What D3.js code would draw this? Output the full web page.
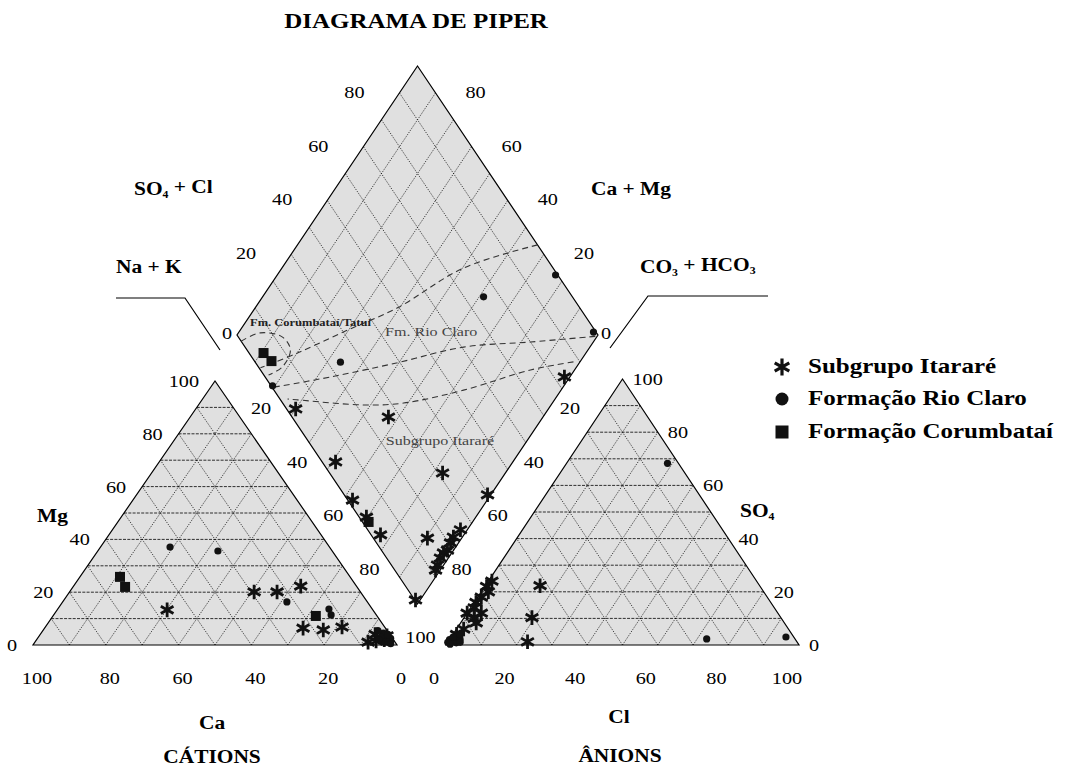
<!DOCTYPE html>
<html lang="pt">
<head>
<meta charset="UTF-8">
<title>Diagrama de Piper</title>
<style>
  body { margin: 0; background: #fff; }
  svg { display: block; font-family: "Liberation Serif", "Times New Roman", serif; }
  .area { fill: #e0e0e0; stroke: none; }
  .edge { fill: none; stroke: #000; stroke-width: 1.2; }
  .grid-h { stroke: #000; stroke-width: 0.8; stroke-dasharray: 3,1.3; }
  .grid-d { stroke: #000; stroke-width: 0.7; stroke-dasharray: 1.3,1.3; }
  .zone { stroke: #333; stroke-width: 1.1; stroke-dasharray: 6,4; fill: none; }
  .lead { stroke: #000; stroke-width: 1.2; fill: none; }
</style>
</head>
<body>
<script src="https://cdn.jsdelivr.net/npm/d3@7"></script>
<script>

var width = 1065,
    height = 767,
    sx = 1.19; // the figure is stretched horizontally, text too

var triTicks = [0, 20, 40, 60, 80, 100];
var diaTicks = [0, 20, 40, 60, 80];
var lowTicks = [20, 40, 60, 80];
var gridSteps = d3.range(10, 100, 10);

// cation triangle, [Ca %, Mg %]
var catItarare = [[56.5, 13.3], [29.2, 20.1], [22.9, 20.1], [15.3, 22.3], [22.6, 6.4], [17.4, 5.7],
                  [11.7, 6.8], [7.4, 1.1], [2.5, 2.0], [4.0, 4.0], [1.0, 3.5], [5.0, 1.5]];
var catRioClaro = [[43.8, 37.1], [31.4, 35.6], [22.1, 16.3], [11.9, 13.6], [12.4, 11.4], [2.0, 3.0],
                   [1.0, 1.5], [3.0, 1.0], [1.5, 4.5], [0.5, 2.5], [2.5, 5.5], [1.0, 2.0],
                   [2.0, 1.0], [3.0, 3.0], [0.5, 4.0], [1.5, 0.5], [4.0, 2.0]];
var catCorumbatai = [[63.2, 25.8], [63.7, 22.0], [16.8, 11.0]];

// anion triangle, [Cl %, SO4 %]
var anItarare = [[15.5, 22.3], [19.2, 10.3], [22.5, 1.2], [1, 24], [0.5, 22], [2, 20], [1, 18],
                 [0.5, 16], [1, 14], [0, 12], [4, 12], [3, 10], [4.4, 8.3], [2, 6], [1, 4]];
var anRioClaro = [[28.6, 68.3], [72.7, 2.3], [94.8, 3.0], [0.5, 1], [1.5, 2], [2.5, 0.8],
                  [1, 3], [3, 2], [0, 2], [0, 1], [0.5, 3], [1, 0.3], [2, 4], [3.5, 1]];

// diamond, [SO4+Cl %, Ca+Mg %]
var diaItarare = [[82.9, 1.5], [2.5, 70.0], [26.7, 42.8], [3.7, 49.1], [31.3, 17.4], [39.7, 0.9],
                  [1.3, 37.3], [2.6, 23.1], [15.0, 9.5], [2.0, 30.3], [0.2, 1.3],
                  [25.7, 1.9], [22.4, 2.5], [20.5, 2.2], [18.3, 1.7], [16.7, 2.3], [14.9, 2.2],
                  [12.8, 1.7], [11.3, 1.3]];
var diaRioClaro = [[99.4, 22.9], [75.4, 38.8], [99.3, 1.8], [23.6, 66.3], [0.4, 80.7]];
var diaCorumbatai = [[4.0, 89.3], [4.7, 85.6], [1.7, 28.8]];

// dashed field boundaries in the diamond, [SO4+Cl %, Ca+Mg %]
var zoneUpper = [[100, 33.5], [75.2, 49.7], [49.5, 60.6], [31.5, 70.3], [13.4, 79.9], [0.4, 87.4]];
var zoneMiddle = [[99, 0.5], [80, 17.4], [60.5, 35.0], [39.3, 50.4], [18.1, 66.3], [0, 80.5]];
var zoneLower = [[88.2, 1.8], [74.8, 12.2], [52.5, 27.0], [33.5, 41.2], [22.0, 52.0], [4.7, 71.2], [2.1, 74.1]];
var zoneCorumbatai = [[0, 97.7], [6.9, 93.9], [12.2, 87.0], [12.0, 82.4], [6.7, 81.5], [1.3, 83.8]];

var series = [
    { name: "Subgrupo Itararé", type: "asterisk", cat: catItarare, an: anItarare, dia: diaItarare },
    { name: "Formação Rio Claro", type: "circle", cat: catRioClaro, an: anRioClaro, dia: diaRioClaro },
    { name: "Formação Corumbataí", type: "square", cat: catCorumbatai, an: [], dia: diaCorumbatai }
];

// scales
var catX = d3.scaleLinear().domain([0, 100]).range([33, 397]),
    catY = d3.scaleLinear().domain([0, 100]).range([645, 381]);
var anX = d3.scaleLinear().domain([0, 100]).range([446, 799]),
    anY = d3.scaleLinear().domain([0, 100]).range([645, 379]);
var diaX = d3.scaleLinear().domain([-100, 100]).range([237, 598]),
    diaY = d3.scaleLinear().domain([0, 200]).range([604, 66]);

function catPos(ca, mg) { return [catX(100 - ca - mg / 2), catY(mg)]; }
function anPos(cl, so4) { return [anX(cl + so4 / 2), anY(so4)]; }
function diaPos(s, c) { return [diaX(s - c), diaY(s + c)]; }

var svg = d3.select("body").append("svg")
    .attr("width", width)
    .attr("height", height);

svg.append("rect").attr("width", width).attr("height", height).attr("fill", "#fff");

function txt(x, y, str, o) {
    o = o || {};
    var t = svg.append("text")
        .attr("transform", "translate(" + x + "," + y + ") scale(" + sx + ",1)")
        .attr("text-anchor", o.anchor || "middle")
        .attr("font-size", o.size || 17)
        .attr("font-weight", o.bold ? "bold" : null)
        .attr("fill", o.color || "#000");
    if (o.dy) t.attr("dy", o.dy);
    if (typeof str === "string") {
        t.text(str);
    } else {
        str.forEach(function(p) {
            var s = t.append("tspan").text(p[0]);
            if (p[1] === "sub") s.attr("font-size", "0.55em").attr("dy", "0.3em");
            if (p[1] === "back") s.attr("dy", "-0.3em");
        });
    }
    return t;
}

function drawShape(corners, lines) {
    var g = svg.append("g");
    g.append("polygon").attr("class", "area")
        .attr("points", corners.map(function(p) { return p.join(","); }).join(" "));
    g.selectAll("line").data(lines).enter().append("line")
        .attr("class", function(d) { return d.cls; })
        .attr("x1", function(d) { return d.a[0]; })
        .attr("y1", function(d) { return d.a[1]; })
        .attr("x2", function(d) { return d.b[0]; })
        .attr("y2", function(d) { return d.b[1]; });
    g.append("polygon").attr("class", "edge")
        .attr("points", corners.map(function(p) { return p.join(","); }).join(" "));
}

// cation triangle
var catLines = [];
gridSteps.forEach(function(k) {
    catLines.push({ cls: "grid-h", a: catPos(100 - k, k), b: catPos(0, k) });
    catLines.push({ cls: "grid-d", a: catPos(k, 0), b: catPos(k, 100 - k) });
    catLines.push({ cls: "grid-d", a: catPos(100 - k, 0), b: catPos(0, 100 - k) });
});
drawShape([catPos(100, 0), catPos(0, 0), catPos(0, 100)], catLines);

// anion triangle
var anLines = [];
gridSteps.forEach(function(k) {
    anLines.push({ cls: "grid-h", a: anPos(0, k), b: anPos(100 - k, k) });
    anLines.push({ cls: "grid-d", a: anPos(k, 0), b: anPos(k, 100 - k) });
    anLines.push({ cls: "grid-d", a: anPos(100 - k, 0), b: anPos(0, 100 - k) });
});
drawShape([anPos(0, 0), anPos(100, 0), anPos(0, 100)], anLines);

// diamond
var diaLines = [];
gridSteps.forEach(function(k) {
    diaLines.push({ cls: "grid-d", a: diaPos(k, 0), b: diaPos(k, 100) });
    diaLines.push({ cls: "grid-d", a: diaPos(0, k), b: diaPos(100, k) });
});
drawShape([diaPos(0, 0), diaPos(100, 0), diaPos(100, 100), diaPos(0, 100)], diaLines);

// field boundaries
var zoneLine = d3.line()
    .x(function(d) { return diaPos(d[0], d[1])[0]; })
    .y(function(d) { return diaPos(d[0], d[1])[1]; })
    .curve(d3.curveCatmullRom);
svg.selectAll("path.zone")
    .data([zoneUpper, zoneMiddle, zoneLower, zoneCorumbatai])
    .enter().append("path")
    .attr("class", "zone")
    .attr("d", zoneLine);

txt(250, 326, "Fm. Corumbataí/Tatuí", { anchor: "start", size: 10.5, bold: true, color: "#222" });
txt(385, 336, "Fm. Rio Claro", { anchor: "start", size: 13.5, color: "#444" });
txt(440, 445, "Subgrupo Itararé", { size: 13.5, color: "#444" });

// markers
var asteriskPath = d3.symbol().type(d3.symbolAsterisk).size(150)();
var asteriskBig = d3.symbol().type(d3.symbolAsterisk).size(200)();

function marker(g, type, big) {
    if (type === "asterisk") {
        g.append("path").attr("d", big ? asteriskBig : asteriskPath)
            .attr("fill", "none").attr("stroke", "#111").attr("stroke-width", big ? 3.2 : 2.8);
    } else if (type === "circle") {
        g.append("circle").attr("r", big ? 6.5 : 3.6).attr("fill", "#111");
    } else {
        var s = big ? 13 : 10;
        g.append("rect").attr("x", -s / 2).attr("y", -s / 2).attr("width", s).attr("height", s)
            .attr("fill", "#111");
    }
}

function drawPoints(data, pos, type) {
    svg.append("g").selectAll("g").data(data).enter().append("g")
        .attr("transform", function(d) { var p = pos(d[0], d[1]); return "translate(" + p[0] + "," + p[1] + ")"; })
        .each(function() { marker(d3.select(this), type, false); });
}

series.forEach(function(s) {
    drawPoints(s.cat, catPos, s.type);
    drawPoints(s.an, anPos, s.type);
    drawPoints(s.dia, diaPos, s.type);
});

// tick labels
triTicks.forEach(function(v) {
    var p = catPos(100 - v, v);
    txt(p[0] - 16, p[1], String(v), { anchor: "end", dy: "0.35em" });
    p = catPos(v, 0);
    txt(p[0] + 4, p[1] + 33, String(v), { dy: "0.35em" });
    p = anPos(v, 0);
    txt(p[0] - 12, p[1] + 33, String(v), { dy: "0.35em" });
    p = anPos(100 - v, v);
    txt(p[0] + 10, p[1], String(v), { anchor: "start", dy: "0.35em" });
});

diaTicks.forEach(function(v) {
    var p = diaPos(v, 100);
    if (v === 0) txt(p[0] - 10, p[1] - 2, String(v), { dy: "0.35em" });
    else txt(p[0] - 27, p[1] - 28, String(v), { dy: "0.35em" });
    p = diaPos(100, v);
    if (v === 0) txt(p[0] + 8, p[1] - 2, String(v), { dy: "0.35em" });
    else txt(p[0] + 22, p[1] - 28, String(v), { dy: "0.35em" });
});
lowTicks.forEach(function(v) {
    var p = diaPos(0, 100 - v);
    txt(p[0] - 12, p[1] + 19, String(v), { dy: "0.35em" });
    p = diaPos(100 - v, 0);
    txt(p[0] + 8, p[1] + 19, String(v), { dy: "0.35em" });
});
var pb = diaPos(0, 0);
txt(pb[0] + 3, pb[1] + 33, "100", { dy: "0.35em" });

// titles and axis names
txt(416, 28, "DIAGRAMA DE PIPER", { size: 21, bold: true });
txt(134, 195, [["SO"], ["4", "sub"], [" + Cl", "back"]], { anchor: "start", size: 18, bold: true });
txt(116, 273, "Na + K", { anchor: "start", size: 18, bold: true });
txt(591, 195, "Ca + Mg", { anchor: "start", size: 18, bold: true });
txt(640, 273, [["CO"], ["3", "sub"], [" + HCO", "back"], ["3", "sub"]], { anchor: "start", size: 18, bold: true });
txt(37, 522, "Mg", { anchor: "start", size: 18, bold: true });
txt(740, 517, [["SO"], ["4", "sub"]], { anchor: "start", size: 18, bold: true });
txt(212, 729, "Ca", { size: 18, bold: true });
txt(212, 763, "CÁTIONS", { size: 18, bold: true });
txt(619, 723, "Cl", { size: 18, bold: true });
txt(620, 762, "ÂNIONS", { size: 18, bold: true });

// leader lines to the diamond
var pl = diaPos(0, 100), pr = diaPos(100, 0);
svg.append("path").attr("class", "lead")
    .attr("d", d3.line()([[116, 298], [185, 298], [pl[0] - 17, pl[1] + 15]]));
svg.append("path").attr("class", "lead")
    .attr("d", d3.line()([[768, 296], [648, 296], [pr[0] + 12, pr[1] + 13]]));

// legend
var legendY = [367, 399, 432];
var legend = svg.append("g").selectAll("g").data(series).enter().append("g")
    .attr("transform", function(d, i) { return "translate(782," + legendY[i] + ")"; });
legend.each(function(d) { marker(d3.select(this), d.type, true); });
series.forEach(function(s, i) {
    txt(808, legendY[i] + 6, s.name, { anchor: "start", size: 21, bold: true });
});

</script>
</body>
</html>
